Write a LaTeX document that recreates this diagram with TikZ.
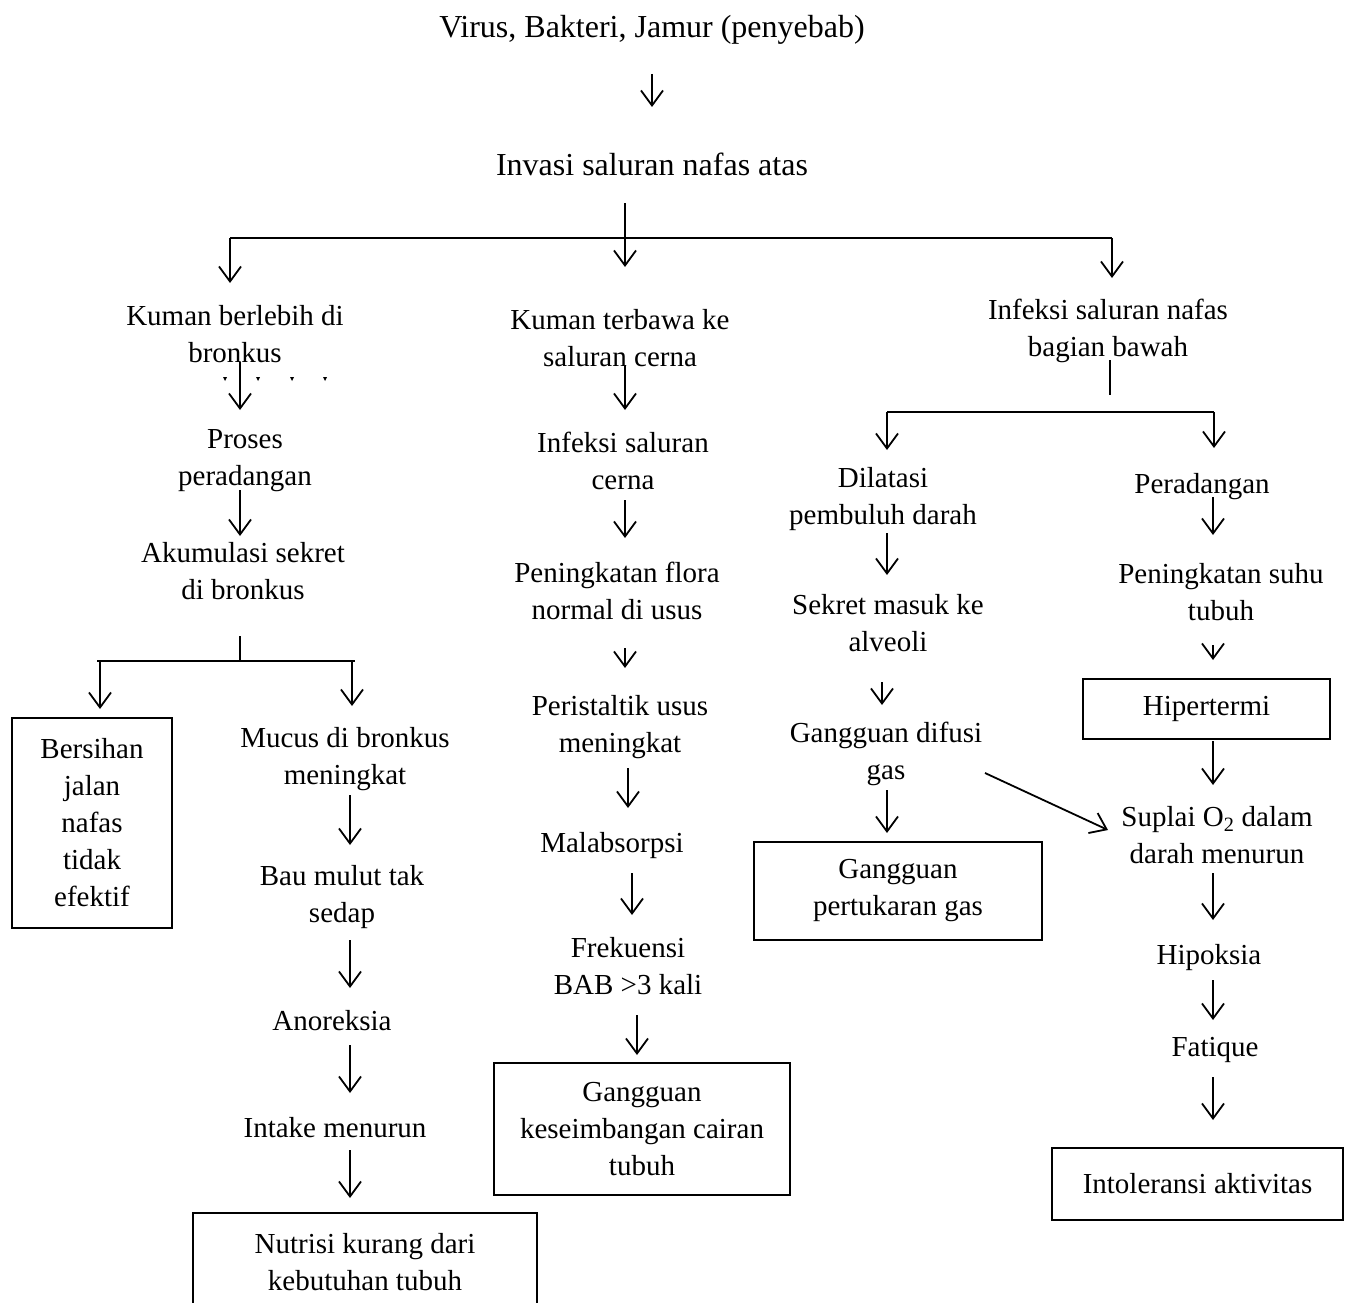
\documentclass[tikz,border=0pt]{standalone}
\usepackage{fontspec}
\setmainfont{Liberation Serif}
\usetikzlibrary{arrows.meta,positioning,calc}

\begin{document}
\begin{tikzpicture}[
    x=1pt, y=-1pt,
    txt/.style={font=\fontsize{29}{37}\selectfont, align=center, inner sep=0pt, yshift=-3pt},
    bigtxt/.style={txt, font=\fontsize{32}{38}\selectfont},
    box/.style={draw, line width=2pt, font=\fontsize{29}{37}\selectfont, align=center, inner sep=0pt},
    arr/.style={line width=1.8pt, -{Straight Barb[length=15pt,width=22pt]}},
    link/.style={line width=1.3pt},
]
\useasboundingbox (0,0) rectangle (1347,1303);

% top
\node[bigtxt] (virus) at (652,27) {Virus, Bakteri, Jamur (penyebab)};
\node[bigtxt] (invasi) at (652,161) {Invasi saluran nafas atas};

% left column
\node[txt] (kumanbr) at (235,331) {Kuman berlebih di\\bronkus};
\node[txt] (proses) at (245,458) {Proses\\peradangan};
\node[txt] (akumulasi) at (243,568) {Akumulasi sekret\\di bronkus};
\node[box, minimum width=160, minimum height=210] (bersihan) at (92,823) {Bersihan\\jalan\\nafas\\tidak\\efektif};
\node[txt] (mucus) at (345,756) {Mucus di bronkus\\meningkat};
\node[txt] (bau) at (342,894) {Bau mulut tak\\sedap};
\node[txt] (anoreksia) at (332,1018) {Anoreksia};
\node[txt] (intake) at (335,1125) {Intake menurun};
\node[box, minimum width=344, minimum height=99] (nutrisi) at (365,1262) {Nutrisi kurang dari\\kebutuhan tubuh};

% middle column
\node[txt] (kumancerna) at (620,335) {Kuman terbawa ke\\saluran cerna};
\node[txt] (infcerna) at (623,458) {Infeksi saluran\\cerna};
\node[txt] (flora) at (617,588) {Peningkatan flora\\normal di usus};
\node[txt] (peristaltik) at (620,724) {Peristaltik usus\\meningkat};
\node[txt] (malabsorpsi) at (612,843) {Malabsorpsi};
\node[txt] (frekuensi) at (628,963) {Frekuensi\\BAB >3 kali};
\node[box, minimum width=296, minimum height=132] (cairan) at (642,1129) {Gangguan\\keseimbangan cairan\\tubuh};

% right columns
\node[txt] (infbawah) at (1108,328) {Infeksi saluran nafas\\bagian bawah};
\node[txt] (dilatasi) at (883,496) {Dilatasi\\pembuluh darah};
\node[txt] (sekret) at (888,620) {Sekret masuk ke\\alveoli};
\node[txt] (difusi) at (886,751) {Gangguan difusi\\gas};
\node[box, minimum width=288, minimum height=98] (pertukaran) at (898,891) {Gangguan\\pertukaran gas};
\node[txt] (peradangan) at (1202,484) {Peradangan};
\node[txt] (suhu) at (1221,589) {Peningkatan suhu\\tubuh};
\node[box, minimum width=247, minimum height=60] (hipertermi) at (1206.5,709) {Hipertermi};
\node[txt] (suplai) at (1217,832) {Suplai O\textsubscript{2} dalam\\darah menurun};
\node[txt] (hipoksia) at (1209,955) {Hipoksia};
\node[txt] (fatique) at (1215,1047) {Fatique};
\node[box, minimum width=291, minimum height=72] (intoleransi) at (1197.5,1184) {Intoleransi aktivitas};

% straight arrows
\foreach \n/\x/\ya/\yb in {top/652/74/107, trunk/625/203/267, left/230/238/283, right/1112/238/278,
    ka/240/362/410, kb/240/490/536, kc/100/661/709, kd/352/661/706,
    ke/350/795/845, kf/350/940/988, kg/350/1045/1093, kh/350/1150/1198,
    ca/625/365/410, cb/625/500/538, cc/625/648/668, cd/628/768/808, ce/632/873/915, cf/637/1015/1055,
    da/887/412/450, db/887/533/575, dc/882/682/705, dd/887/790/833,
    pa/1214/412/448, pb/1213/497/535, pc/1213/645/660, pd/1213/741/785,
    pe/1213/873/920, pf/1213/980/1020, pg/1213/1077/1120} {
    \coordinate (\n a) at (\x,\ya);
    \coordinate (\n b) at (\x,\yb);
    \draw[arr] (\n a) -- (\n b);
}

% branch lines
\draw[link] (lefta) -- (righta);
\coordinate (bronkusstem) at (240,636);
\draw[link] (bronkusstem) -- (240,661);
\draw[link] (97,661) -- (355,661);
\coordinate (bawahstem) at (1110,360);
\draw[link] (bawahstem) -- (1110,395);
\draw[link] (daa) -- (paa);

% difusi to suplai
\coordinate (diagfrom) at (985,773);
\coordinate (diagto) at (1108,830);
\draw[arr] (diagfrom) -- (diagto);

% stray marks under bronkus
\foreach \x in {225,258,292,325}
    \fill (\x-2,377) -- (\x+2,377) -- (\x,381) -- cycle;
\end{tikzpicture}
\end{document}
